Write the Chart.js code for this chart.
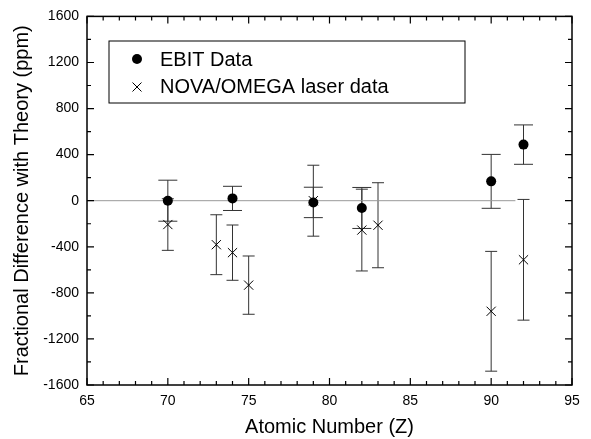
<!DOCTYPE html>
<html>
<head>
<meta charset="utf-8">
<script src="https://cdn.jsdelivr.net/npm/chart.js@4/dist/chart.umd.min.js"></script>
<style>
  html, body { margin: 0; padding: 0; background: #fff; }
  #wrap { width: 591px; height: 439px; }
</style>
</head>
<body>
<div id="wrap"><canvas id="chart" width="591" height="439"></canvas></div>
<script>
// EBIT measurements
const ebitZ = [70, 74, 79, 82, 90, 92];
const ebitDiff = [0, 20, -15, -63, 168, 487];
const ebitErr = [178, 105, 132, 178, 234, 171];

// NOVA/OMEGA laser measurements
const novaZ = [70, 73, 74, 75, 79, 82, 83, 90, 92];
const novaDiff = [-207, -382, -451, -733, 0, -255, -213, -960, -513];
const novaErr = [224, 260, 240, 253, 308, 355, 369, 520, 524];

// reference line at zero
const zeroLineZ = [65, 91.5];

const xTicks = [65, 70, 75, 80, 85, 90, 95];
const yTicks = [-1600, -1200, -800, -400, 0, 400, 800, 1200, 1600];

const FONT = 'Arial, "Liberation Sans", sans-serif';

function toPoints(xs, ys) {
    return xs.map((x, i) => ({ x: x, y: ys[i] }));
}

// error bars, frame with inward ticks, legend box
const decorations = {
    id: 'decorations',
    beforeDatasetsDraw(chart) {
        const ctx = chart.ctx;
        const xs = chart.scales.x, ys = chart.scales.y;
        const sets = [
            { z: novaZ, v: novaDiff, e: novaErr, cap: 6, color: '#333' },
            { z: ebitZ, v: ebitDiff, e: ebitErr, cap: 9.5, color: '#333' }
        ];
        ctx.save();
        ctx.lineWidth = 1;
        sets.forEach(s => {
            ctx.strokeStyle = s.color;
            s.z.forEach((z, i) => {
                const px = xs.getPixelForValue(z);
                const top = ys.getPixelForValue(s.v[i] + s.e[i]);
                const bot = ys.getPixelForValue(s.v[i] - s.e[i]);
                ctx.beginPath();
                ctx.moveTo(px, top); ctx.lineTo(px, bot);
                ctx.moveTo(px - s.cap, top); ctx.lineTo(px + s.cap, top);
                ctx.moveTo(px - s.cap, bot); ctx.lineTo(px + s.cap, bot);
                ctx.stroke();
            });
        });
        ctx.restore();
    },
    afterDraw(chart) {
        const ctx = chart.ctx;
        const a = chart.chartArea;
        const xs = chart.scales.x, ys = chart.scales.y;
        ctx.save();
        ctx.strokeStyle = '#000';
        ctx.lineWidth = 1.5;
        ctx.strokeRect(a.left, a.top, a.right - a.left, a.bottom - a.top);

        ctx.lineWidth = 1.2;
        ctx.beginPath();
        // x ticks: major every 5, minor every 1
        for (let z = 65; z <= 95; z++) {
            const px = xs.getPixelForValue(z);
            const len = z % 5 === 0 ? 7 : 4;
            ctx.moveTo(px, a.bottom); ctx.lineTo(px, a.bottom - len);
            ctx.moveTo(px, a.top); ctx.lineTo(px, a.top + len);
        }
        // y ticks: major every 400, minor every 200
        for (let v = -1600; v <= 1600; v += 200) {
            const py = ys.getPixelForValue(v);
            const len = v % 400 === 0 ? 7 : 4;
            ctx.moveTo(a.left, py); ctx.lineTo(a.left + len, py);
            ctx.moveTo(a.right, py); ctx.lineTo(a.right - len, py);
        }
        ctx.stroke();

        // legend
        const lx = 109, ly = 41, lw = 356, lh = 62;
        ctx.lineWidth = 1;
        ctx.strokeRect(lx, ly, lw, lh);
        ctx.fillStyle = '#000';
        ctx.beginPath();
        ctx.arc(137, 59, 5, 0, Math.PI * 2);
        ctx.fill();
        const r = 4.5;
        ctx.beginPath();
        ctx.moveTo(137 - r, 87 - r); ctx.lineTo(137 + r, 87 + r);
        ctx.moveTo(137 + r, 87 - r); ctx.lineTo(137 - r, 87 + r);
        ctx.stroke();
        ctx.font = '20px ' + FONT;
        ctx.textBaseline = 'middle';
        ctx.textAlign = 'left';
        ctx.fillText(chart.data.datasets[1].label, 160, 60);
        ctx.fillText(chart.data.datasets[2].label, 160, 87);
        ctx.restore();
    }
};

new Chart(document.getElementById('chart'), {
    type: 'scatter',
    data: {
        datasets: [
            {
                type: 'line',
                label: 'zero',
                data: toPoints(zeroLineZ, [0, 0]),
                borderColor: '#999',
                borderWidth: 1,
                pointRadius: 0,
                order: 3
            },
            {
                label: 'EBIT Data',
                data: toPoints(ebitZ, ebitDiff),
                pointStyle: 'circle',
                pointRadius: 5,
                backgroundColor: '#000',
                borderColor: '#000',
                borderWidth: 0,
                order: 1
            },
            {
                label: 'NOVA/OMEGA laser data',
                data: toPoints(novaZ, novaDiff),
                pointStyle: 'crossRot',
                pointRadius: 6.5,
                borderColor: '#000',
                borderWidth: 1,
                order: 2
            }
        ]
    },
    options: {
        responsive: false,
        animation: false,
        layout: { padding: { top: 14, right: 19, left: 0, bottom: 0 } },
        plugins: {
            legend: { display: false },
            tooltip: { enabled: false }
        },
        scales: {
            x: {
                type: 'linear',
                min: 65,
                max: 95,
                afterFit: s => { s.height = 54; },
                afterBuildTicks: s => { s.ticks = xTicks.map(v => ({ value: v })); },
                grid: { display: false, drawTicks: false },
                border: { display: false },
                ticks: {
                    color: '#000',
                    padding: 8,
                    maxRotation: 0,
                    callback: v => String(v),
                    font: { family: FONT, size: 14 }
                },
                title: {
                    display: true,
                    text: 'Atomic Number (Z)',
                    color: '#000',
                    padding: { top: 0, bottom: 0 },
                    font: { family: FONT, size: 20 }
                }
            },
            y: {
                min: -1600,
                max: 1600,
                afterFit: s => { s.width = 87; },
                afterBuildTicks: s => { s.ticks = yTicks.map(v => ({ value: v })); },
                grid: { display: false, drawTicks: false },
                border: { display: false },
                ticks: {
                    color: '#000',
                    padding: 8,
                    callback: v => String(v),
                    font: { family: FONT, size: 14 }
                },
                title: {
                    display: true,
                    text: 'Fractional Difference with Theory (ppm)',
                    color: '#000',
                    padding: { top: 10, bottom: 0 },
                    font: { family: FONT, size: 20 }
                }
            }
        }
    },
    plugins: [decorations]
});
</script>
</body>
</html>
